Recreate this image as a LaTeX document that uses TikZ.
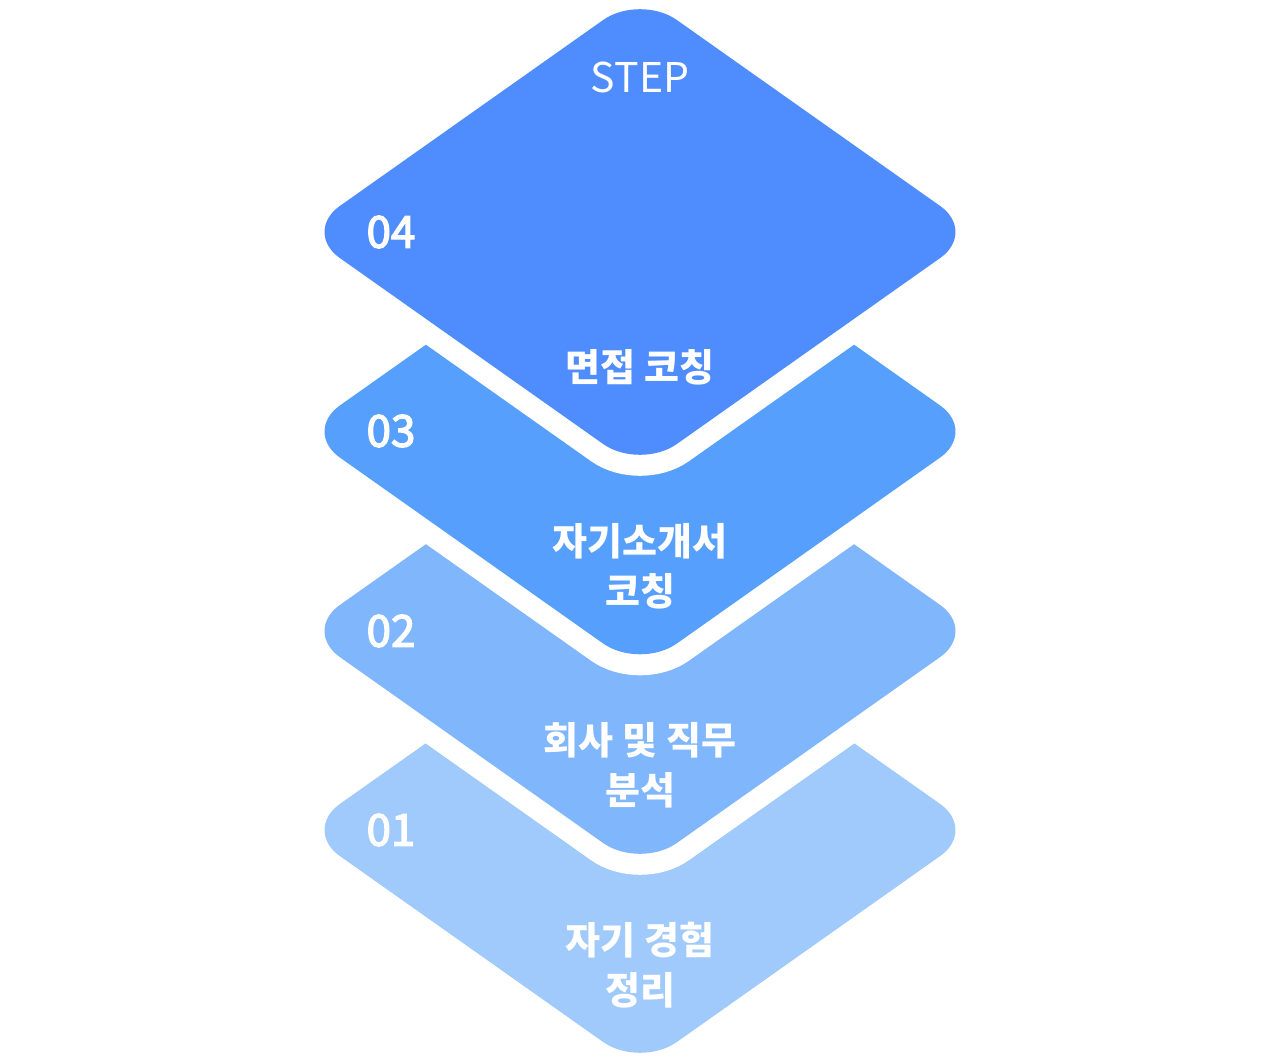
\documentclass[tikz,border=0pt]{standalone}
\usepackage{fontspec}
\setmainfont{Noto Sans CJK KR}
\newfontfamily\numfont{Noto Sans CJK KR}[FakeBold=3]
\definecolor{cfour}{HTML}{4F8CFE}
\definecolor{cthree}{HTML}{569FFC}
\definecolor{ctwo}{HTML}{80B7FC}
\definecolor{cone}{HTML}{A0C9FC}
\newcommand\diam[1]{(471.5,#1-119) -- (640,#1-238) -- (977,#1) -- (640,#1+238) -- (303,#1) -- cycle}
\tikzset{
  halo/.style={draw=white, line width=42pt, line join=round, rounded corners=45pt},
  layer/.style={rounded corners=45pt},
  num/.style={text=white, font=\numfont\fontsize{44}{50}\selectfont, inner sep=0},
  lbl/.style={text=white, font=\fontsize{38}{50}\selectfont\bfseries, align=center, inner sep=0},
  steplbl/.style={text=white, font=\fontsize{41}{50}\selectfont, inner sep=0}
}
\begin{document}
\begin{tikzpicture}[x=1pt,y=-1pt]
\useasboundingbox (0,0) rectangle (1280,1063);
% layer 01
\fill[cone, layer] \diam{830};
% layer 02
\path[halo] \diam{631};
\fill[ctwo, layer] \diam{631};
% layer 03
\path[halo] \diam{431.5};
\fill[cthree, layer] \diam{431.5};
% layer 04
\path[halo] \diam{232};
\fill[cfour, layer] \diam{232};
% texts
\node[steplbl] (step) at (640,77) {STEP};
\node[num] (n4) at (391,232) {04};
\node[lbl] (t4) at (640,367) {면접 코칭};
\node[num] (n3) at (391,431) {03};
\node[lbl] (t3) at (640,566) {자기소개서\\코칭};
\node[num] (n2) at (391,631) {02};
\node[lbl] (t2) at (640,765) {회사 및 직무\\분석};
\node[num] (n1) at (391,830) {01};
\node[lbl] (t1) at (640,965) {자기 경험\\정리};
\end{tikzpicture}
\end{document}
